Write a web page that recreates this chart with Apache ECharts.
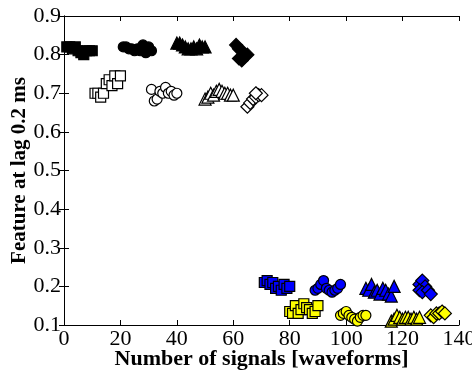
<!DOCTYPE html>
<html>
<head>
<meta charset="utf-8">
<script src="https://cdn.jsdelivr.net/npm/echarts@6/dist/echarts.min.js"></script>
<style>
  html, body { margin: 0; padding: 0; background: #fff; }
  #chart { width: 472px; height: 373px; }
</style>
</head>
<body>
<div id="chart"></div>
<script>
// values: [number of signals, feature at lag 0.2 ms]
const blackSquares = [[1,0.82],[2,0.82],[3,0.815],[4,0.82],[5,0.81],[6,0.805],[7,0.80],[8,0.81],[9,0.81],[10,0.81]]
const openSquares = [[11,0.70],[12,0.70],[13,0.69],[14,0.70],[15,0.725],[16,0.735],[17,0.72],[18,0.745],[19,0.725],[20,0.745]]
const blackCircles = [[21,0.82],[22,0.82],[23,0.815],[24,0.815],[25,0.81],[26,0.815],[27,0.81],[28,0.825],[29,0.805],[30,0.82],[31,0.81]]
const openCircles = [[31,0.71],[32,0.68],[33,0.685],[34,0.705],[35,0.70],[36,0.715],[37,0.70],[38,0.705],[39,0.695],[40,0.70]]
const blackTriangles = [[40,0.83],[41,0.83],[42,0.825],[43,0.82],[44,0.815],[45,0.815],[46,0.82],[47,0.815],[48,0.825],[49,0.82],[50,0.82]]
const openTriangles = [[50,0.685],[51,0.69],[52,0.70],[53,0.695],[54,0.705],[55,0.71],[56,0.705],[57,0.70],[58,0.70],[59,0.695],[60,0.695]]
const blackDiamonds = [[61,0.825],[62,0.815],[63,0.81],[64,0.80],[65,0.80],[62,0.79],[63,0.785],[64,0.795]]
const openDiamonds = [[65,0.665],[66,0.675],[67,0.685],[68,0.69],[69,0.695],[70,0.695],[68,0.70]]

const blueSquares = [[71,0.21],[72,0.215],[73,0.205],[74,0.21],[75,0.195],[76,0.20],[77,0.19],[78,0.205],[79,0.195],[80,0.20]]
const yellowSquares = [[80,0.135],[81,0.13],[82,0.15],[83,0.13],[84,0.14],[85,0.155],[86,0.145],[87,0.14],[88,0.13],[89,0.135],[90,0.15]]
const blueCircles = [[89,0.19],[90,0.195],[91,0.205],[92,0.215],[93,0.195],[94,0.19],[95,0.185],[96,0.19],[97,0.195],[98,0.205]]
const yellowCircles = [[98,0.125],[99,0.13],[100,0.135],[101,0.125],[102,0.12],[103,0.115],[104,0.11],[105,0.12],[106,0.125],[107,0.125]]
const blueTriangles = [[107,0.195],[108,0.19],[109,0.205],[110,0.185],[111,0.19],[112,0.18],[113,0.195],[114,0.19],[115,0.18],[116,0.175],[117,0.20]]
const yellowTriangles = [[116,0.11],[117,0.115],[118,0.125],[119,0.12],[120,0.115],[121,0.12],[122,0.12],[123,0.115],[124,0.12],[125,0.115],[126,0.12]]
const blueDiamonds = [[126,0.205],[127,0.215],[128,0.20],[126,0.19],[127,0.185],[129,0.19],[130,0.18]]
const yellowDiamonds = [[130,0.125],[131,0.12],[132,0.13],[133,0.13],[134,0.135],[135,0.13]]

const FONT = 'Liberation Serif'

function scatter(data, symbol, size, fill) {
  return {
    type: 'scatter',
    data: data,
    symbol: symbol,
    symbolSize: size,
    itemStyle: { color: fill, borderColor: '#000', borderWidth: 1.2, opacity: 1 },
    emphasis: { disabled: true }
  }
}

const frameAxis = {
  axisLine: { show: true, lineStyle: { color: '#000', width: 1 } },
  axisTick: { show: true, inside: true, length: 5, lineStyle: { color: '#000' } },
  splitLine: { show: false }
}

const chart = echarts.init(document.getElementById('chart'))
chart.setOption({
  animation: false,
  grid: { left: 64, right: 13, top: 16, bottom: 48, outerBoundsMode: 'none', containLabel: false },
  xAxis: [
    Object.assign({
      type: 'value', min: 0, max: 140, interval: 20, position: 'bottom',
      axisLabel: { color: '#000', fontFamily: FONT, fontSize: 22, margin: 3 },
      name: 'Number of signals [waveforms]',
      nameLocation: 'middle', nameGap: 23, nameMoveOverlap: false,
      nameTextStyle: { color: '#000', fontFamily: FONT, fontSize: 22, fontWeight: 'bold' }
    }, frameAxis),
    Object.assign({
      type: 'value', min: 0, max: 140, interval: 20, position: 'top',
      axisLabel: { show: false }
    }, frameAxis)
  ],
  yAxis: [
    Object.assign({
      type: 'value', min: 0.1, max: 0.9, interval: 0.1, position: 'left',
      axisLabel: { color: '#000', fontFamily: FONT, fontSize: 22, margin: 3,
        formatter: v => v.toFixed(1) },
      name: 'Feature at lag 0.2 ms',
      nameLocation: 'middle', nameGap: 34, nameMoveOverlap: false,
      nameTextStyle: { color: '#000', fontFamily: FONT, fontSize: 21, fontWeight: 'bold' }
    }, frameAxis),
    Object.assign({
      type: 'value', min: 0.1, max: 0.9, interval: 0.1, position: 'right',
      axisLabel: { show: false }
    }, frameAxis)
  ],
  series: [
    scatter(blackSquares, 'rect', 10, '#000'),
    scatter(openSquares, 'rect', 10, '#fff'),
    scatter(blackCircles, 'circle', 10, '#000'),
    scatter(openCircles, 'circle', 10, '#fff'),
    scatter(blackTriangles, 'triangle', 12, '#000'),
    scatter(openTriangles, 'triangle', 12, '#fff'),
    scatter(blackDiamonds, 'diamond', 13, '#000'),
    scatter(openDiamonds, 'diamond', 13, '#fff'),
    scatter(blueSquares, 'rect', 10, '#0000ff'),
    scatter(yellowSquares, 'rect', 10, '#ffff00'),
    scatter(blueCircles, 'circle', 10, '#0000ff'),
    scatter(yellowCircles, 'circle', 10, '#ffff00'),
    scatter(blueTriangles, 'triangle', 12, '#0000ff'),
    scatter(yellowTriangles, 'triangle', 12, '#ffff00'),
    scatter(blueDiamonds, 'diamond', 13, '#0000ff'),
    scatter(yellowDiamonds, 'diamond', 13, '#ffff00')
  ]
})
</script>
</body>
</html>
